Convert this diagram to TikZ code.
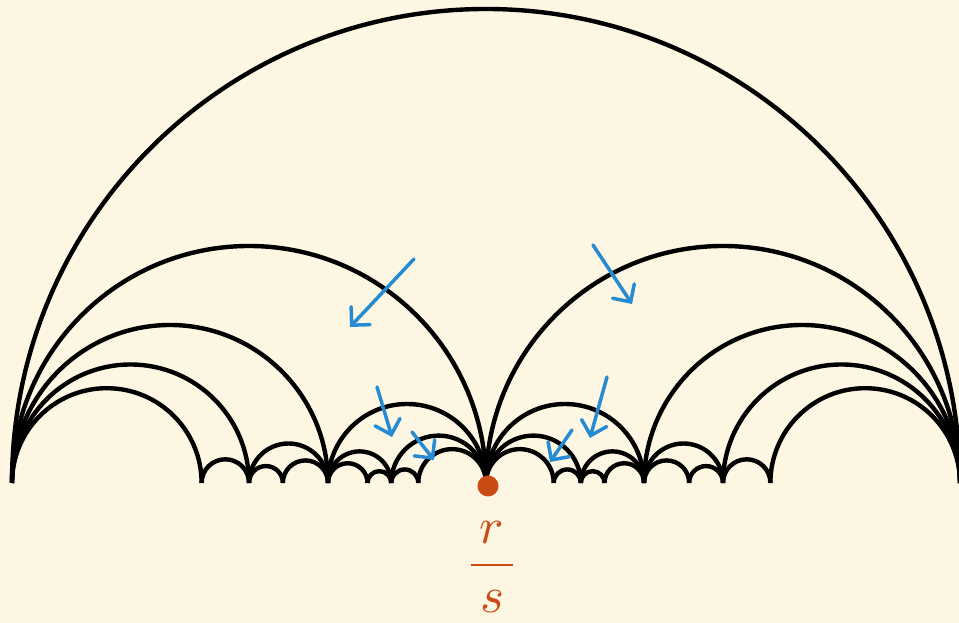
\documentclass[tikz,border=0pt]{standalone}
\usepackage{amsmath}
\usepackage{tikz}
\usetikzlibrary{arrows.meta,calc}

\definecolor{paper}{HTML}{FDF6E3}
\definecolor{penblue}{HTML}{268BD2}
\definecolor{penorange}{HTML}{CB4B16}

% half circle standing on the base line between two named points
\newcommand{\geo}[2]{%
  \draw[geod] let \p1=(#1), \p2=(#2) in (#1) arc[start angle=180, end angle=0, radius={0.5*(\x2-\x1)}];}

\begin{document}
\begin{tikzpicture}[
    x=1pt, y=1pt,
    geod/.style={line width=4.4pt, black},
    pen/.style={line width=3.5pt, penblue, line cap=round, line join=round,
                -{Straight Barb[length=13pt, width=26pt, line cap=round]}},
    dot/.style={circle, fill=penorange, inner sep=0pt, minimum size=21pt}
  ]
  \fill[paper] (0,-140) rectangle (959,483);
  \useasboundingbox (0,-140) rectangle (959,483);

  % points of the base line (name/numerator/denominator)
  \foreach \n/\a/\b in {p0/0/1, p15/1/5, p14/1/4, p27/2/7, p13/1/3, p38/3/8, p25/2/5, p37/3/7,
                        p12/1/2, p47/4/7, p35/3/5, p58/5/8, p23/2/3, p57/5/7, p34/3/4, p45/4/5, p1/1/1}
    \coordinate (\n) at ({12+948*\a/\b},0);

  % outer arcs
  \geo{p0}{p1}
  \geo{p0}{p12} \geo{p0}{p13} \geo{p0}{p14} \geo{p0}{p15}
  \geo{p12}{p1} \geo{p23}{p1} \geo{p34}{p1} \geo{p45}{p1}

  % left half
  \geo{p15}{p14} \geo{p14}{p27} \geo{p27}{p13} \geo{p14}{p13}
  \geo{p13}{p12} \geo{p13}{p25} \geo{p25}{p12}
  \geo{p13}{p38} \geo{p38}{p25} \geo{p25}{p37} \geo{p37}{p12}

  % right half
  \geo{p34}{p45} \geo{p57}{p34} \geo{p23}{p57} \geo{p23}{p34}
  \geo{p12}{p23} \geo{p35}{p23} \geo{p12}{p35}
  \geo{p58}{p23} \geo{p35}{p58} \geo{p47}{p35} \geo{p12}{p47}

  % the point r/s
  \node[dot] (rs) at (488,-3) {};
  \node[text=penorange, scale=5.1] (rslabel) at (492,-84) {$\dfrac{\,r\,}{\,s\,}$};

  % arrows
  \draw[pen] (414,224) -- (350,156);
  \draw[pen] (593,238) -- (632,179);
  \draw[pen] (377,96) -- (392,46);
  \draw[pen] (412,51) -- (434,23);
  \draw[pen] (607,106) -- (590,45);
  \draw[pen] (572,53) -- (550,21);
\end{tikzpicture}
\end{document}
